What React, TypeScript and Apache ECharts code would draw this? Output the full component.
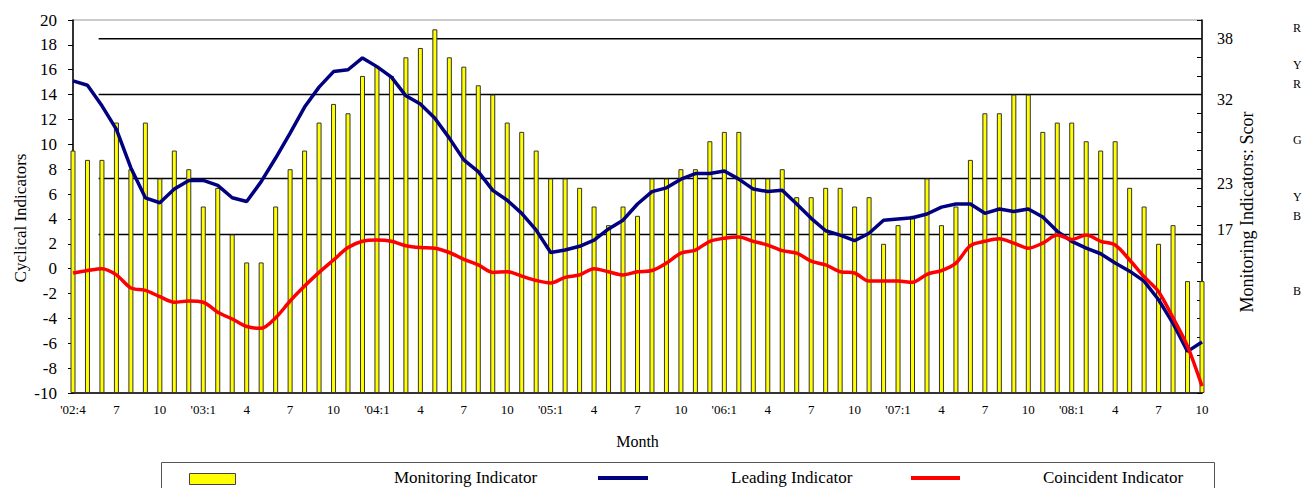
import React, { useEffect, useRef } from "react";
import * as echarts from "echarts";

const CATEGORIES = [
  "'02:4", "'02:5", "'02:6", "'02:7", "'02:8", "'02:9", "'02:10", "'02:11", "'02:12",
  "'03:1", "'03:2", "'03:3", "'03:4", "'03:5", "'03:6", "'03:7", "'03:8", "'03:9", "'03:10", "'03:11", "'03:12",
  "'04:1", "'04:2", "'04:3", "'04:4", "'04:5", "'04:6", "'04:7", "'04:8", "'04:9", "'04:10", "'04:11", "'04:12",
  "'05:1", "'05:2", "'05:3", "'05:4", "'05:5", "'05:6", "'05:7", "'05:8", "'05:9", "'05:10", "'05:11", "'05:12",
  "'06:1", "'06:2", "'06:3", "'06:4", "'06:5", "'06:6", "'06:7", "'06:8", "'06:9", "'06:10", "'06:11", "'06:12",
  "'07:1", "'07:2", "'07:3", "'07:4", "'07:5", "'07:6", "'07:7", "'07:8", "'07:9", "'07:10", "'07:11", "'07:12",
  "'08:1", "'08:2", "'08:3", "'08:4", "'08:5", "'08:6", "'08:7", "'08:8", "'08:9", "'08:10",
];

// Monitoring indicator score (right axis, 0..40)
const MONITORING = [
  26, 25, 25, 29, 24, 29, 23, 26, 24, 20, 22, 17, 14, 14, 20, 24, 26, 29,
  31, 30, 34, 35, 34, 36, 37, 39, 36, 35, 33, 32, 29, 28, 26, 23, 23, 22, 20, 18, 20, 19,
  23, 23, 24, 24, 27, 28, 28, 23, 23, 24, 21, 21, 22, 22, 20, 21, 16, 18, 19, 23, 18, 20,
  25, 30, 30, 32, 32, 28, 29, 29, 27, 26, 27, 22, 20, 16, 18, 12, 12,
];

// Leading indicator (left axis)
const LEADING = [
  15.1, 14.75, 13.1, 11.2, 8.1, 5.7, 5.3, 6.4, 7.1, 7.1, 6.7, 5.7, 5.4, 7.0, 8.9, 10.9, 13.0, 14.6,
  15.85, 16.0, 16.95, 16.25, 15.4, 13.9, 13.25, 12.1, 10.5, 8.75, 7.8, 6.3, 5.5, 4.45, 3.1, 1.3, 1.5, 1.8, 2.3, 3.2, 3.9, 5.2,
  6.2, 6.5, 7.2, 7.65, 7.65, 7.85, 7.2, 6.4, 6.2, 6.3, 5.2, 4.05, 3.05, 2.7, 2.25, 2.85, 3.9, 4.0, 4.1, 4.4, 4.95, 5.2,
  5.2, 4.45, 4.8, 4.6, 4.8, 4.15, 3.0, 2.2, 1.65, 1.2, 0.45, -0.2, -1.0, -2.5, -4.4, -6.65, -5.9,
];

// Coincident indicator (left axis)
const COINCIDENT = [
  -0.35, -0.15, 0.0, -0.5, -1.55, -1.75, -2.25, -2.7, -2.6, -2.7, -3.5, -4.05, -4.65, -4.8, -3.95, -2.6, -1.4, -0.3,
  0.7, 1.7, 2.2, 2.3, 2.2, 1.85, 1.7, 1.65, 1.3, 0.75, 0.3, -0.3, -0.25, -0.6, -0.95, -1.15, -0.7, -0.5, 0.0, -0.25, -0.5, -0.25,
  -0.15, 0.45, 1.25, 1.5, 2.2, 2.45, 2.55, 2.2, 1.9, 1.45, 1.25, 0.6, 0.3, -0.25, -0.35, -1.0, -1.0, -1.0, -1.1, -0.45, -0.15, 0.45,
  1.85, 2.2, 2.4, 2.05, 1.65, 2.05, 2.7, 2.35, 2.7, 2.2, 1.9, 0.7, -0.65, -1.85, -3.95, -6.25, -9.45,
];

// Signal thresholds on the score axis
const THRESHOLDS = [38, 32, 23, 17];
// Right-axis label texts and the score positions where they are printed
const RIGHT_LABELS: Record<string, string> = { "38": "38", "31.5": "32", "22.5": "23", "17.5": "17" };
// Light-signal letters at the far right
const SIGNAL_LETTERS = [
  { t: "R", y: 28 }, { t: "Y", y: 65 }, { t: "R", y: 84 }, { t: "G", y: 140 },
  { t: "Y", y: 197 }, { t: "B", y: 216 }, { t: "B", y: 291 },
];

const FONT = "'Liberation Serif', 'Times New Roman', serif";
const THRESH_START = 1.77;

export default function App() {
  const ref = useRef<HTMLDivElement>(null);
  useEffect(() => {
    document.body.style.margin = "0";
    const chart = echarts.init(ref.current!, null, { renderer: "svg" });
    const thresholdSeries = THRESHOLDS.map((t) => ({
      type: "line",
      xAxisIndex: 1,
      yAxisIndex: 1,
      data: [[THRESH_START, t], [CATEGORIES.length - 1, t]],
      symbol: "none",
      silent: true,
      lineStyle: { color: "#000", width: 1.5 },
      z: 1,
    }));
    chart.setOption({
      animation: false,
      textStyle: { fontFamily: FONT },
      grid: {
        left: 73,
        right: 100,
        top: 20,
        bottom: 95,
        show: true,
        borderColor: "#999",
        borderWidth: 1,
      },
      xAxis: [
        {
          type: "category",
          data: CATEGORIES,
          boundaryGap: false,
          axisLine: { onZero: false, lineStyle: { color: "#000", width: 1.5 } },
          axisTick: { inside: true, interval: 0, length: 4, lineStyle: { color: "#000" } },
          axisLabel: {
            interval: 2,
            margin: 10,
            color: "#000",
            fontSize: 13,
            fontFamily: FONT,
            formatter: (v: string, i: number) => {
              const m = v.split(":")[1];
              return i === 0 || m === "1" ? v : m;
            },
          },
          splitLine: { show: false },
          name: "Month",
          nameLocation: "middle",
          nameGap: 40,
          nameTextStyle: { color: "#000", fontSize: 16, fontFamily: FONT },
        },
        {
          type: "value",
          min: 0,
          max: CATEGORIES.length - 1,
          show: false,
          axisLine: { show: false, onZero: false },
        },
      ],
      yAxis: [
        {
          type: "value",
          min: -10,
          max: 20,
          interval: 2,
          position: "left",
          axisLine: { show: true, onZero: false, lineStyle: { color: "#000", width: 1.5 } },
          axisTick: { show: true, length: 5, lineStyle: { color: "#000" } },
          axisLabel: { color: "#000", fontSize: 17, margin: 16, fontFamily: FONT },
          splitLine: { show: false },
        },
        {
          type: "value",
          min: 0,
          max: 40,
          interval: 2,
          position: "right",
          axisLine: { show: true, onZero: false, lineStyle: { color: "#000", width: 1.5 } },
          axisTick: { show: true, inside: true, length: 5, lineStyle: { color: "#000" } },
          axisLabel: { show: false },
          splitLine: { show: false },
        },
        {
          type: "value",
          min: 0,
          max: 40,
          interval: 0.5,
          position: "right",
          axisLine: { show: false, onZero: false },
          axisTick: { show: false },
          splitLine: { show: false },
          axisLabel: {
            color: "#000",
            fontSize: 16,
            margin: 15,
            fontFamily: FONT,
            formatter: (v: number) => RIGHT_LABELS[String(v)] ?? "",
          },
        },
      ],
      series: [
        {
          name: "Monitoring Indicator",
          type: "bar",
          yAxisIndex: 1,
          data: MONITORING,
          barWidth: 5,
          clip: true,
          itemStyle: { color: "#FFFF00", borderColor: "#333", borderWidth: 1 },
          z: 2,
        },
        ...thresholdSeries,
        {
          name: "Leading Indicator",
          type: "line",
          data: LEADING,
          symbol: "none",
          lineStyle: { color: "#000080", width: 3.5 },
          z: 4,
        },
        {
          name: "Coincident Indicator",
          type: "line",
          data: COINCIDENT,
          symbol: "none",
          smooth: 0.3,
          lineStyle: { color: "#FF0000", width: 3.5 },
          z: 5,
        },
      ],
      graphic: [
        {
          type: "text",
          x: 20,
          y: 218,
          rotation: Math.PI / 2,
          style: { text: "Cyclical Indicators", font: `17px ${FONT}`, fill: "#000", align: "center", verticalAlign: "middle" },
        },
        {
          type: "text",
          x: 1247,
          y: 212,
          rotation: Math.PI / 2,
          style: { text: "Monitoring Indicators: Scor", font: `18px ${FONT}`, fill: "#000", align: "center", verticalAlign: "middle" },
        },
        ...SIGNAL_LETTERS.map((l) => ({
          type: "text",
          x: 1293,
          y: l.y,
          style: { text: l.t, font: `12px ${FONT}`, fill: "#000", align: "left", verticalAlign: "middle" },
        })),
        {
          type: "rect",
          shape: { x: 161.5, y: 462.5, width: 1053, height: 40 },
          style: { fill: "#fff", stroke: "#555", lineWidth: 1 },
        },
        {
          type: "rect",
          shape: { x: 189.5, y: 473.5, width: 46, height: 11 },
          style: { fill: "#FFFF00", stroke: "#444", lineWidth: 1 },
        },
        {
          type: "text",
          x: 394,
          y: 477,
          style: { text: "Monitoring Indicator", font: `17px ${FONT}`, fill: "#000", verticalAlign: "middle" },
        },
        {
          type: "line",
          shape: { x1: 598, y1: 478, x2: 648, y2: 478 },
          style: { stroke: "#000080", lineWidth: 4 },
        },
        {
          type: "text",
          x: 731,
          y: 477,
          style: { text: "Leading Indicator", font: `17px ${FONT}`, fill: "#000", verticalAlign: "middle" },
        },
        {
          type: "line",
          shape: { x1: 911, y1: 478, x2: 960, y2: 478 },
          style: { stroke: "#FF0000", lineWidth: 4 },
        },
        {
          type: "text",
          x: 1043,
          y: 477,
          style: { text: "Coincident Indicator", font: `17px ${FONT}`, fill: "#000", verticalAlign: "middle" },
        },
      ],
    });
    return () => chart.dispose();
  }, []);
  return <div ref={ref} style={{ width: 1302, height: 488 }} />;
}
